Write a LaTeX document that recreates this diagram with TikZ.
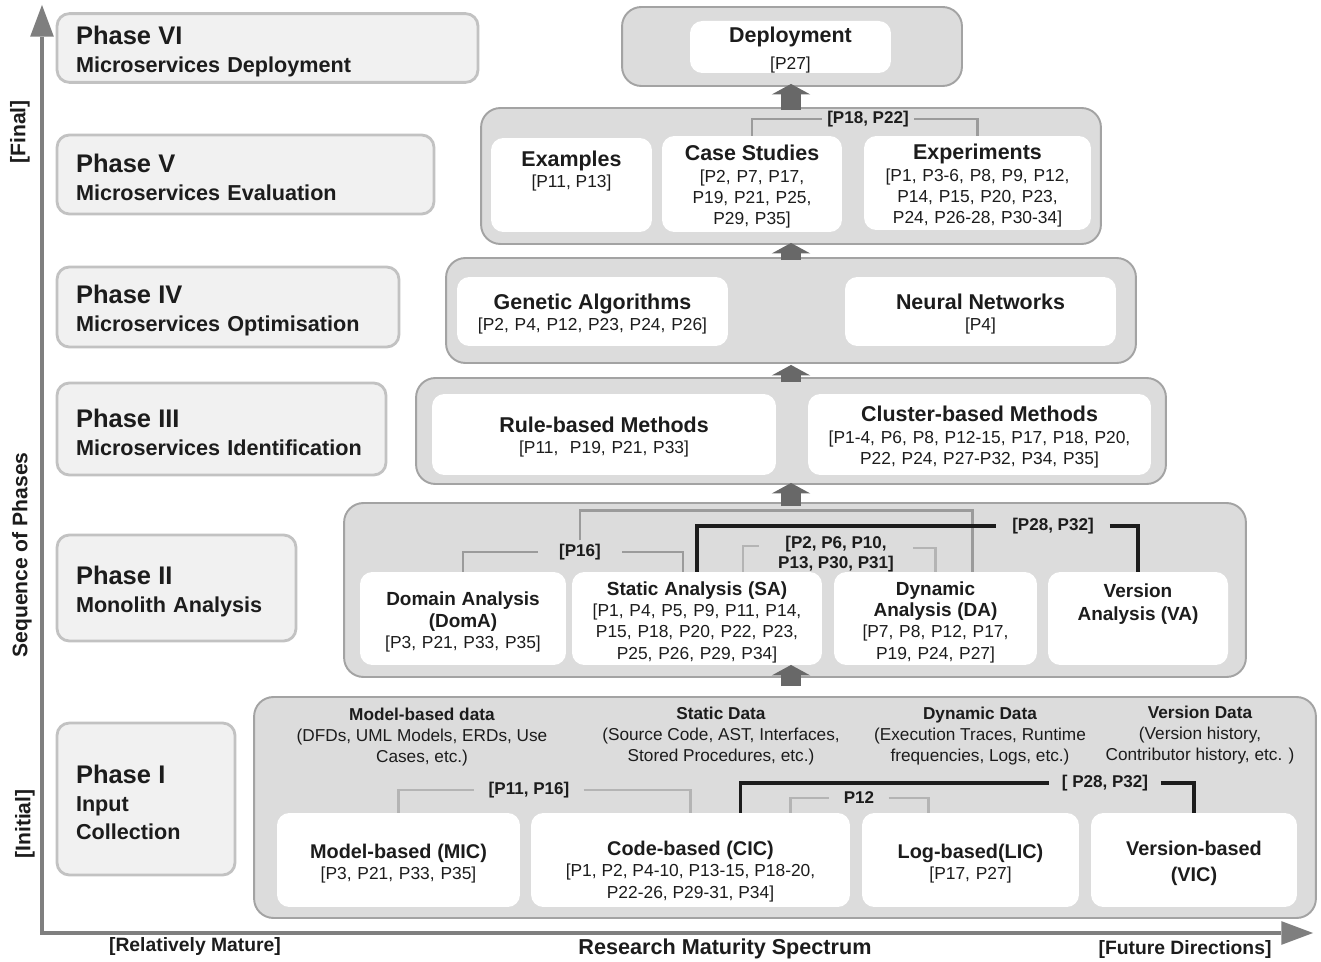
\documentclass[tikz,border=0pt]{standalone}
\usepackage{fontspec}
\setmainfont{Liberation Sans}
\usetikzlibrary{arrows.meta,calc,positioning}

\definecolor{boxgray}{HTML}{DCDCDC}
\definecolor{edgegray}{HTML}{A3A3A3}
\definecolor{phasefill}{HTML}{F1F1F1}
\definecolor{phaseedge}{HTML}{C2C2C2}
\definecolor{axisgray}{HTML}{7F7F7F}
\definecolor{arrowgray}{HTML}{686868}
\definecolor{linkgray}{HTML}{9B9B9B}
\definecolor{linklight}{HTML}{B4B4B4}
\definecolor{inkblack}{HTML}{1C1C1C}

\newcommand{\ttl}{\bfseries\fontsize{12.2}{14.5}\selectfont}
\newcommand{\ttlsm}{\bfseries\fontsize{10.8}{13}\selectfont}
\newcommand{\ttlmd}{\bfseries\fontsize{11.3}{13.5}\selectfont}
\newcommand{\phz}{\fontsize{14.5}{17}\selectfont}

\begin{document}
\begin{tikzpicture}[x=0.02cm, y=-0.02cm, text=inkblack,
	container/.style={draw=edgegray, fill=boxgray, line width=1.1pt, rounded corners=11pt},
	inbox/.style 2 args={fill=white, rounded corners=7pt, align=center, inner sep=0pt, minimum width=#1, text width=#1, minimum height=#2, font=\fontsize{9.9}{12.2}\selectfont, execute at begin node={\rule{0pt}{12pt}}},
	boxtxt/.style={align=center, inner sep=0pt, font=\fontsize{9.9}{12.2}\selectfont},
	phasebox/.style={draw=phaseedge, fill=phasefill, line width=1.6pt, rounded corners=7pt, align=left, inner xsep=0.38cm, font=\bfseries\fontsize{12.3}{15.9}\selectfont, execute at begin node={\rule{0pt}{14pt}}},
	hdr/.style={align=center, inner sep=0pt, font=\fontsize{9.8}{11.9}\selectfont},
	reflbl/.style={align=center, inner ysep=2pt, font=\bfseries\fontsize{9.7}{11.3}\selectfont},
	refline/.style={draw=linkgray, line width=1.6pt},
	reflight/.style={draw=linklight, line width=1.6pt},
	refdark/.style={draw=inkblack, line width=1.8pt},
	uparrow/.style={draw=arrowgray, line width=11pt, -{Triangle[width=22pt,length=6pt,line width=0pt]}},
	axis/.style={draw=axisgray, line width=2.6pt},
	axislbl/.style={font=\bfseries\fontsize{11}{13}\selectfont}]
\useasboundingbox (0,0) rectangle (1321,962);

% axes
\coordinate (origin) at (42,933);
\coordinate (ytop) at (42,5);
\coordinate (xend) at (1313,933);
\draw[axis, {Triangle[width=13.5pt,length=18pt,line width=0pt]}-{Triangle[width=13.5pt,length=18pt,line width=0pt]}] (ytop) -- (origin) -- (xend);
\node[axislbl, rotate=90, font=\bfseries\fontsize{12}{14}\selectfont] (final) at (20,132) {[Final]};
\node[axislbl, rotate=90, font=\bfseries\fontsize{12}{14}\selectfont] (seq) at (22,555) {Sequence of Phases};
\node[axislbl, rotate=90, font=\bfseries\fontsize{12}{14}\selectfont] (initial) at (25,824) {[Initial]};
\node[axislbl] (mature) at (195,946) {[Relatively Mature]};
\node[axislbl, font=\bfseries\fontsize{12.3}{14}\selectfont] (spectrum) at (725,949) {Research Maturity Spectrum};
\node[axislbl] (future) at (1185,949) {[Future Directions]};

% phases
\node[phasebox, text width=7.66cm, minimum height=1.36cm] (ph6) at (267.5,48) {{\phz Phase VI}\\Microservices Deployment};
\node[phasebox, text width=6.78cm, minimum height=1.58cm] (ph5) at (245.5,174.5) {{\phz Phase V}\\Microservices Evaluation};
\node[phasebox, text width=6.08cm, minimum height=1.6cm] (ph4) at (228,307) {{\phz Phase IV}\\Microservices Optimisation};
\node[phasebox, text width=5.82cm, minimum height=1.84cm] (ph3) at (221.5,429) {{\phz Phase III}\\Microservices Identification};
\node[phasebox, text width=4.02cm, minimum height=2.12cm] (ph2) at (176.5,588) {{\phz Phase II}\\Monolith Analysis};
\node[phasebox, text width=2.8cm, minimum height=3.04cm] (ph1) at (146,799) {{\phz Phase I}\\Input\\Collection};

% containers
\node[container, minimum width=6.8cm, minimum height=1.58cm] (c6) at (792,46.5) {};
\node[container, minimum width=12.4cm, minimum height=2.72cm] (c5) at (791,176) {};
\node[container, minimum width=13.8cm, minimum height=2.1cm] (c4) at (791,310.5) {};
\node[container, minimum width=15cm, minimum height=2.12cm] (c3) at (791,431) {};
\node[container, minimum width=18.04cm, minimum height=3.48cm] (c2) at (795,590) {};
\node[container, minimum width=21.24cm, minimum height=4.42cm] (c1) at (785,807.5) {};

% phase VI
\node[inbox={4.02cm}{1.04cm}] (dep) at (790.5,47) {{\ttl Deployment}\\[3pt]{}[P27]};

% phase V
\node[inbox={3.22cm}{1.88cm}] (ex) at (571.5,185) {};
\node[boxtxt, anchor=north] (extxt) at ($(ex.north)+(0,13)$) {{\ttl Examples}\\{}[P11, P13]};
\node[inbox={3.6cm}{1.92cm}] (cs) at (752,184) {{\ttl Case Studies}\\{}[P2, P7, P17,\\P19, P21, P25,\\P29, P35]};
\node[inbox={4.54cm}{1.88cm}] (exp) at (977.5,183) {{\ttl Experiments}\\{}[P1, P3-6, P8, P9, P12,\\P14, P15, P20, P23,\\P24, P26-28, P30-34]};
\node[reflbl, inner xsep=3pt] (l1822) at (868,119) {[P18, P22]};
\draw[refline] (cs.north) |- (l1822.west);
\draw[refline] (l1822.east) -| (exp.north);

% phase IV
\node[inbox={5.42cm}{1.38cm}] (ga) at (592.5,311.5) {{\ttl Genetic Algorithms}\\{}[P2, P4, P12, P23, P24, P26]};
\node[inbox={5.42cm}{1.38cm}] (nn) at (980.5,311.5) {{\ttl Neural Networks}\\{}[P4]};

% phase III
\node[inbox={6.88cm}{1.62cm}] (rb) at (604,434.5) {{\ttl Rule-based Methods}\\{}[P11, \ P19, P21, P33]};
\node[inbox={6.86cm}{1.62cm}] (cb) at (979.5,434.5) {{\ttl Cluster-based Methods}\\{}[P1-4, P6, P8, P12-15, P17, P18, P20,\\P22, P24, P27-P32, P34, P35]};

% phase II
\node[inbox={4.12cm}{1.86cm}] (dom) at (463,618.5) {{\ttlsm Domain Analysis}\\{\ttlsm (DomA)}\\{}[P3, P21, P33, P35]};
\node[inbox={5cm}{1.86cm}] (sa) at (697,618.5) {{\ttlsm Static Analysis (SA)}\\{}[P1, P4, P5, P9, P11, P14,\\P15, P18, P20, P22, P23,\\P25, P26, P29, P34]};
\node[inbox={4.06cm}{1.86cm}] (da) at (935.5,618.5) {{\ttlsm Dynamic}\\{\ttlsm Analysis (DA)}\\{}[P7, P8, P12, P17,\\P19, P24, P27]};
\node[inbox={3.6cm}{1.86cm}] (va) at (1138,618.5) {};
\node[boxtxt, anchor=north, font=\ttlsm] (vatxt) at ($(va.north)+(0,12)$) {Version\\Analysis (VA)};
\node[reflbl, inner xsep=12pt] (l16) at (580,552) {[P16]};
\node[reflbl, inner xsep=11pt] (l2to31) at (836,554) {[P2, P6, P10,\\P13, P30, P31]};
\node[reflbl, inner xsep=9pt] (l2832a) at (1053,526) {[P28, P32]};
\draw[refline] (l16.north) |- ($(da.north)+(37,-61)$) -- ($(da.north)+(37,0)$);
\draw[refline] (dom.north) |- (l16.west);
\draw[refline] (l16.east) -| ($(sa.north)+(-14,0)$);
\draw[reflight] ($(sa.north)+(46,0)$) |- ($(l2to31.west)+(0,-8)$);
\draw[reflight] ($(l2to31.east)+(0,-6)$) -| (da.north);
\draw[refdark] (sa.north) |- (l2832a.west);
\draw[refdark] (l2832a.east) -| (va.north);

% phase I
\node[hdr] (mdata) at (422,737) {\textbf{Model-based data}\\(DFDs, UML Models, ERDs, Use\\Cases, etc.)};
\node[hdr] (sdata) at (721,736) {\textbf{Static Data}\\(Source Code, AST, Interfaces,\\Stored Procedures, etc.)};
\node[hdr] (ddata) at (980,736) {\textbf{Dynamic Data}\\(Execution Traces, Runtime\\frequencies, Logs, etc.)};
\node[hdr] (vdata) at (1200,735) {\textbf{Version Data}\\(Version history,\\Contributor history, etc. )};
\node[inbox={4.86cm}{1.88cm}] (mic) at (398.5,860) {{\ttlmd Model-based (MIC)}\\{}[P3, P21, P33, P35]};
\node[inbox={6.38cm}{1.88cm}] (cic) at (690.5,860) {};
\node[boxtxt, anchor=north] (cictxt) at ($(cic.north)+(0,28)$) {{\ttlmd Code-based (CIC)}\\{}[P1, P2, P4-10, P13-15, P18-20,\\P22-26, P29-31, P34]};
\node[inbox={4.34cm}{1.88cm}] (lic) at (970.5,860) {{\ttlmd Log-based(LIC)}\\{}[P17, P27]};
\node[inbox={4.12cm}{1.88cm}, font=\bfseries\fontsize{11.3}{14.5}\selectfont] (vic) at (1194,860) {Version-based\\(VIC)};
\node[reflbl, inner xsep=8pt] (l1116) at (529,790) {[P11, P16]};
\node[reflbl, inner xsep=7pt] (l2832b) at (1105,783) {[ P28, P32]};
\node[reflbl, inner xsep=8pt] (l12) at (859,798) {P12};
\draw[reflight] (mic.north) |- (l1116.west);
\draw[reflight] (l1116.east) -| (cic.north);
\draw[refdark] ($(cic.north)+(50,0)$) |- (l2832b.west);
\draw[refdark] (l2832b.east) -| (vic.north);
\draw[reflight] ($(cic.north)+(100,0)$) |- (l12.west);
\draw[reflight] (l12.east) -| ($(lic.north)+(-42,0)$);

% flow between phases
\draw[uparrow] ($(c1.north -| c3.south)+(0,-10)$) -- ($(c2.south -| c3.south)+(0,-13)$);
\draw[uparrow] ($(c2.north -| c3.south)+(0,4)$) -- ($(c3.south)+(0,-2)$);
\draw[uparrow] ($(c3.north)+(0,5)$) -- ($(c4.south)+(0,1)$);
\draw[uparrow] ($(c4.north)+(0,3)$) -- ($(c5.south)+(0,-2)$);
\draw[uparrow] ($(c5.north)+(0,3)$) -- ($(c6.south -| c5.north)+(0,-3)$);
\end{tikzpicture}
\end{document}
